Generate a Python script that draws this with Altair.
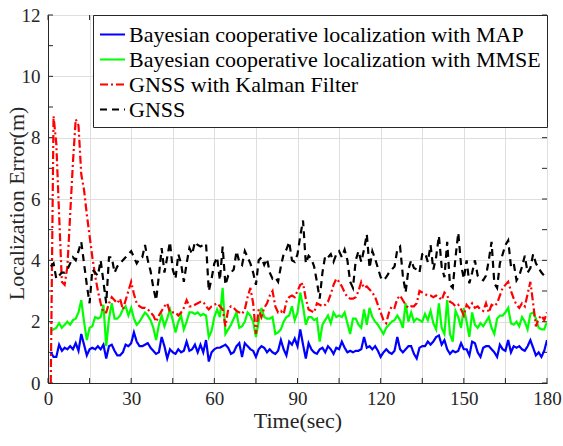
import altair as alt
import pandas as pd

series_names = [
    "Bayesian cooperative localization with MAP",
    "Bayesian cooperative localization with MMSE",
    "GNSS with Kalman Filter",
    "GNSS",
]
series_colors = ["#0000FF", "#00FF00", "#FF0000", "#000000"]
series_dash = [[1, 0], [1, 0], [8, 3, 2, 3], [7, 5]]

time_s = list(range(1, 181))

map_err = [
    1.0, 0.85, 0.85, 1.25, 1.05, 1.15, 1.1, 1.2, 1.1, 1.3,
    1.05, 1.6, 1.25, 0.9, 1.1, 1.15, 1.1, 1.2, 1.1, 1.25,
    0.8, 1.2, 1.25, 1.05, 0.9, 0.9, 1.0, 1.25, 1.2, 1.3,
    1.65, 1.35, 1.2, 1.2, 1.25, 1.3, 1.15, 1.05, 0.95, 1.0,
    1.5, 1.2, 0.8, 1.1, 1.0, 0.95, 1.1, 1.0, 1.05, 1.35,
    1.05, 1.1, 1.25, 1.0, 1.25, 1.0, 1.4, 0.7, 1.0, 1.1,
    1.15, 1.15, 1.2, 1.25, 1.15, 0.95, 1.0, 1.2, 1.3, 0.85,
    1.3, 1.2, 1.1, 1.05, 0.85, 1.1, 1.2, 1.15, 1.0, 1.1,
    1.0, 0.95, 1.05, 1.4, 1.1, 0.9, 1.35, 1.25, 1.45, 1.2,
    1.75, 1.25, 0.8, 1.3, 1.1, 1.0, 0.95, 1.1, 1.15, 1.0,
    1.2, 1.1, 0.95, 1.15, 1.1, 1.35, 1.15, 1.0, 1.05, 1.0,
    1.05, 1.05, 1.1, 1.5, 1.15, 1.2, 1.1, 1.2, 1.05, 0.85,
    1.0, 1.1, 1.0, 0.95, 1.05, 1.5, 1.1, 1.0, 1.1, 1.2,
    1.2, 0.95, 0.8, 1.15, 1.2, 1.2, 1.35, 1.25, 1.35, 1.5,
    1.55, 1.25, 1.4, 1.1, 0.95, 1.05, 1.0, 1.05, 1.3, 1.1,
    1.1, 0.9, 1.35, 1.3, 1.0, 0.85, 1.15, 1.2, 1.2, 1.1,
    1.0, 0.85, 1.25, 1.1, 1.05, 1.4, 1.0, 1.2, 1.15, 1.2,
    1.1, 1.05, 1.2, 1.4, 1.15, 0.9, 1.0, 0.85, 1.05, 1.4,
]

mmse_err = [
    1.7, 1.75, 1.8, 1.95, 1.8, 1.9, 2.0, 1.9, 2.05, 2.1,
    2.3, 2.7, 2.0, 1.4, 1.8, 1.85, 2.15, 2.1, 2.15, 2.55,
    1.2, 2.1, 2.6, 2.1, 2.1, 2.2, 2.4, 2.5, 2.2, 2.45,
    2.1, 1.9, 2.0, 2.15, 2.3, 2.2, 2.05, 1.8, 1.4, 1.9,
    2.2, 1.85, 2.1, 2.4, 2.05, 1.65, 2.0, 2.2, 1.75, 2.0,
    2.3, 2.3, 2.25, 2.3, 2.2, 2.25, 2.2, 1.5, 1.7, 2.15,
    2.4, 2.15, 3.1, 1.6, 1.75, 1.9, 2.1, 2.3, 1.8, 1.85,
    2.0, 2.3, 2.2, 2.0, 1.5, 2.0, 2.45, 2.15, 2.1, 2.1,
    2.15, 1.6, 1.65, 1.75, 2.0, 2.15, 2.2, 2.5, 2.05, 2.3,
    2.95, 2.5, 1.9, 2.15, 2.15, 2.05, 2.1, 1.35, 1.9, 2.05,
    2.2, 1.95, 2.3, 2.15, 2.2, 2.15, 2.3, 1.95, 1.6, 2.1,
    2.1, 1.9, 1.8, 2.4, 1.9, 2.45, 2.15, 2.0, 1.9, 1.75,
    1.6, 1.8, 1.9, 2.0, 2.05, 2.2, 2.05, 1.8, 2.6, 2.0,
    2.3, 2.0, 2.1, 2.05, 2.0, 2.25, 2.05, 2.35, 1.95, 1.75,
    2.6, 1.8, 1.6, 2.7, 1.6, 1.35, 2.35, 2.15, 1.8, 2.45,
    2.0, 1.5, 2.3, 1.9, 1.8, 1.95, 1.85, 2.0, 2.15, 1.8,
    1.6, 2.1, 2.2, 2.2, 2.3, 2.45, 1.95, 1.9, 2.0, 1.85,
    2.15, 2.0, 1.75, 2.25, 2.3, 2.1, 1.8, 1.75, 1.75, 2.0,
]

kalman_err = [
    0.0, 8.7, 7.8, 5.5, 3.3, 3.2, 3.8, 5.5, 7.2, 8.6,
    8.4, 6.8, 6.3, 5.5, 4.8, 4.1, 3.5, 3.0, 2.6, 2.3,
    2.3, 2.6, 2.8, 2.7, 2.6, 2.75, 2.4, 2.7, 3.0, 3.3,
    2.9, 2.6, 2.5, 2.45, 2.45, 2.4, 2.3, 2.2, 2.0, 2.2,
    2.35, 2.5, 2.6, 2.3, 2.3, 2.3, 2.2, 2.3, 2.45, 2.7,
    2.5, 2.5, 2.55, 2.6, 2.65, 2.65, 2.5, 2.4, 2.5, 2.55,
    2.6, 2.5, 2.4, 1.85, 2.4, 2.5, 2.45, 2.35, 2.3, 2.25,
    2.4, 2.8, 3.1, 2.6, 1.6, 2.4, 2.15, 2.45, 2.6, 2.85,
    3.0, 2.5, 2.3, 2.35, 2.25, 2.65, 2.8, 2.85, 2.8, 3.0,
    3.2, 3.25, 2.75, 2.4, 2.35, 2.3, 2.6, 2.55, 2.5, 2.55,
    2.65, 2.9, 3.2, 3.4, 3.3, 3.15, 2.95, 2.8, 2.75, 2.75,
    2.8, 3.0, 3.3, 3.1, 3.15, 3.05, 2.95, 2.8, 2.55, 2.3,
    2.05, 1.95, 2.3, 2.5, 2.45, 2.75, 2.85, 2.7, 2.55, 2.45,
    2.5, 2.5, 2.6, 3.0, 2.95, 2.9, 2.85, 2.85, 2.8, 2.85,
    2.8, 2.7, 2.95, 2.85, 2.65, 2.6, 2.5, 2.55, 2.4, 2.2,
    2.55, 2.45, 2.6, 2.45, 2.5, 2.4, 2.35, 2.6, 2.3, 2.55,
    2.5, 2.6, 2.85, 3.1, 3.2, 3.3, 3.0, 2.75, 2.55, 2.45,
    2.6, 2.5, 2.9, 3.3, 2.6, 1.85, 2.1, 2.2, 2.05, 2.3,
]

gnss_err = [
    3.8, 3.9, 3.4, 3.5, 3.6, 3.6, 3.7, 3.9, 4.1, 4.0,
    4.3, 4.6, 3.9, 3.2, 2.6, 3.7, 3.6, 3.5, 4.0, 3.3,
    2.6, 4.1, 4.1, 3.6, 3.8, 3.9, 4.0, 4.1, 4.2, 4.3,
    4.1, 3.9, 4.05, 4.1, 4.5, 4.0, 3.65, 3.1, 2.7, 3.5,
    4.4, 3.6, 4.1, 4.6, 3.7, 3.4, 4.2, 3.9, 3.3, 3.9,
    4.4, 4.2, 4.6, 4.5, 4.45, 4.5, 4.55, 3.0, 3.4, 3.9,
    4.1, 3.35, 4.45, 3.2, 3.5, 3.6, 3.7, 4.3, 3.95, 3.85,
    4.3, 4.1, 3.9, 3.6, 3.2, 4.0, 4.1, 3.85, 4.05, 3.6,
    3.4, 3.45, 3.3, 3.8, 4.2, 4.35, 4.6, 4.0, 3.95, 4.2,
    4.8, 5.3, 3.9, 4.15, 4.05, 3.8, 3.3, 2.75, 3.6, 4.15,
    4.1, 4.2, 3.95, 4.2, 4.3, 4.1, 4.35, 4.0, 3.3, 3.1,
    4.0, 4.3, 3.95, 4.35, 4.85, 3.75, 4.3, 4.05, 3.75, 3.45,
    3.35, 3.45, 3.6, 3.7, 3.8, 4.35, 4.45, 3.5, 2.95, 3.7,
    4.0, 3.75, 3.7, 3.6, 4.2, 4.25, 3.95, 4.5, 3.7, 4.1,
    4.8, 3.8, 3.45, 4.6, 3.2, 3.1, 4.1, 4.9, 3.85, 3.4,
    4.0, 3.25, 3.6, 4.0, 3.5, 3.4, 3.35, 3.5, 4.0, 4.6,
    3.25, 3.1, 3.9, 4.2, 4.5, 4.65, 3.8, 3.9, 3.35, 3.5,
    3.8, 4.15, 3.6, 3.75, 4.2, 3.9, 3.75, 3.6, 3.5, 3.6,
]

x_ticks = list(range(0, 181, 15))
y_ticks = list(range(0, 13, 1))

rows = []
for name, vals in zip(series_names, [map_err, mmse_err, kalman_err, gnss_err]):
    for t, v in zip(time_s, vals):
        rows.append({"t": t, "val": v, "series": name})
df = pd.DataFrame(rows)
df["order"] = df["series"].map({n: i for i, n in enumerate(series_names)})

W, H = 499, 368
FONT = "Liberation Serif"
AX = "#262626"

x_scale = alt.Scale(domain=[0, 180], nice=False)
y_scale = alt.Scale(domain=[0, 12], nice=False)

lines = alt.Chart(df).mark_line(strokeWidth=2.2, clip=True).encode(
    x=alt.X("t:Q", scale=x_scale,
            axis=alt.Axis(values=x_ticks, title="Time(sec)", ticks=False,
                          labelExpr="datum.value % 30 === 0 ? datum.label : ''",
                          labelFlush=False, labelPadding=6, titlePadding=2,
                          titleFontWeight=400,
                          gridColor="#dedede", domainColor=AX)),
    y=alt.Y("val:Q", scale=y_scale,
            axis=alt.Axis(values=y_ticks, title="Localization Error(m)", ticks=False,
                          labelExpr="datum.value % 2 === 0 ? datum.label : ''",
                          labelPadding=8, titleFontWeight=400,
                          titleAngle=270, titleX=-25, titleY=H / 2 + 4,
                          titleBaseline="alphabetic",
                          gridColor="#dedede", domainColor=AX)),
    color=alt.Color("series:N", scale=alt.Scale(domain=series_names, range=series_colors),
                    legend=alt.Legend(title=None)),
    strokeDash=alt.StrokeDash("series:N", scale=alt.Scale(domain=series_names, range=series_dash),
                              legend=alt.Legend(title=None)),
    order=alt.Order("order:Q"),
)

xt = pd.DataFrame({"t": x_ticks})
yt = pd.DataFrame({"val": y_ticks})

tick_b = alt.Chart(xt).mark_rule(color=AX, strokeWidth=1).encode(
    x=alt.X("t:Q", scale=x_scale), y=alt.value(H), y2=alt.value(H - 5))
tick_t = alt.Chart(xt).mark_rule(color=AX, strokeWidth=1).encode(
    x=alt.X("t:Q", scale=x_scale), y=alt.value(0), y2=alt.value(5))
tick_l = alt.Chart(yt).mark_rule(color=AX, strokeWidth=1).encode(
    y=alt.Y("val:Q", scale=y_scale), x=alt.value(0), x2=alt.value(5))
tick_r = alt.Chart(yt).mark_rule(color=AX, strokeWidth=1).encode(
    y=alt.Y("val:Q", scale=y_scale), x=alt.value(W), x2=alt.value(W - 5))

chart = alt.layer(tick_b, tick_t, tick_l, tick_r, lines).properties(
    width=W, height=H,
    autosize="none",
    padding={"left": 48, "top": 15, "right": 16, "bottom": 63},
).configure_view(
    stroke=AX, strokeWidth=1
).configure_axis(
    labelFont=FONT, titleFont=FONT, labelFontSize=19, titleFontSize=22,
    labelColor="#262626", titleColor="#262626", titleFontWeight=400,
    grid=True,
).configure_legend(
    orient="top-right", offset=0, padding=6,
    strokeColor=AX, fillColor="white", cornerRadius=0,
    labelFont=FONT, labelFontSize=22, labelColor="#000000", labelLimit=1000,
    symbolType="stroke", symbolSize=625, symbolStrokeWidth=2,
    rowPadding=0, labelOffset=3,
)

chart.save("out.html", embed_options={"renderer": "svg", "actions": False})
